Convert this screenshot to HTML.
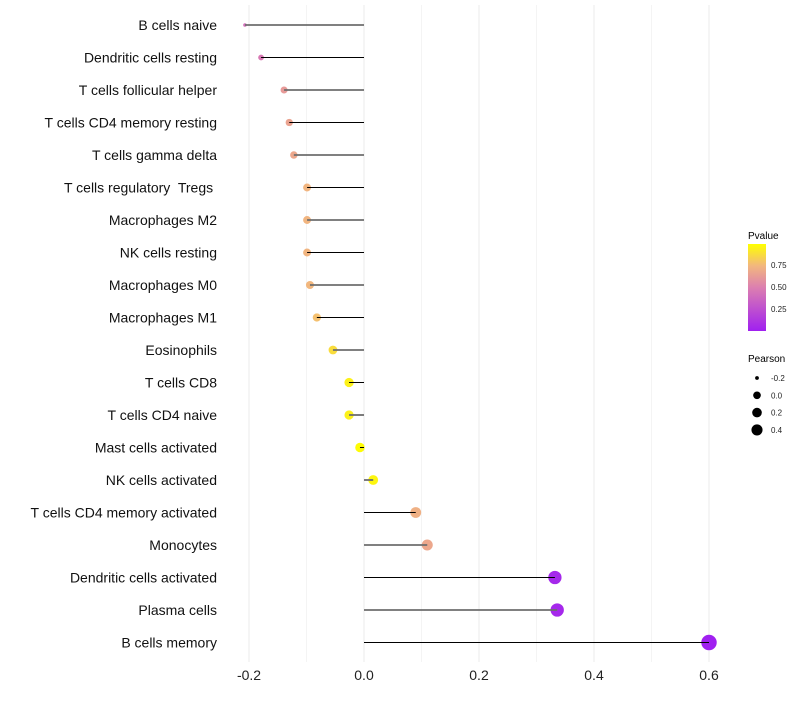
<!DOCTYPE html>
<html><head><meta charset="utf-8"><style>
body{margin:0;background:#fff;font-family:"Liberation Sans",sans-serif;}
</style></head><body>
<svg id="chart" width="800" height="700" xmlns="http://www.w3.org/2000/svg" font-family="Liberation Sans, sans-serif">
<defs><linearGradient id="pg" x1="0" y1="1" x2="0" y2="0">
<stop offset="0" stop-color="#A020F0"/><stop offset="0.5" stop-color="#DC7FB0"/><stop offset="0.75" stop-color="#F2B77E"/><stop offset="1" stop-color="#FFFF00"/></linearGradient></defs>
<g id="grid"></g><g id="marks"></g><g id="labels"></g>
<g>
<text x="748" y="239" font-size="10" fill="#000">Pvalue</text>
<rect x="748" y="244" width="18" height="87" fill="url(#pg)"/>
<g font-size="8" fill="#222"><text x="771" y="268">0.75</text><text x="771" y="290">0.50</text><text x="771" y="312">0.25</text></g>
<text x="748" y="362" font-size="10" fill="#000">Pearson</text>
<g id="sizeleg" font-size="8" fill="#222"></g>
</g>
</svg>
<script>
const cats=["B cells naive","Dendritic cells resting","T cells follicular helper","T cells CD4 memory resting","T cells gamma delta","T cells regulatory  Tregs ","Macrophages M2","NK cells resting","Macrophages M0","Macrophages M1","Eosinophils","T cells CD8","T cells CD4 naive","Mast cells activated","NK cells activated","T cells CD4 memory activated","Monocytes","Dendritic cells activated","Plasma cells","B cells memory"];
const pearson=[-0.207,-0.179,-0.139,-0.130,-0.122,-0.099,-0.099,-0.099,-0.094,-0.082,-0.054,-0.026,-0.026,-0.007,0.016,0.090,0.110,0.332,0.336,0.600];
const pvalue=[0.42,0.47,0.62,0.66,0.68,0.74,0.74,0.74,0.75,0.78,0.88,0.95,0.95,0.99,0.97,0.72,0.68,0.04,0.04,0.0];
const xTicks=[-0.2,0.0,0.2,0.4,0.6];
const xTickLabels=["-0.2","0.0","0.2","0.4","0.6"];
const sizeLegend=[-0.2,0.0,0.2,0.4];
const NS="http://www.w3.org/2000/svg";
const x=v=>364+v*575;
const y=i=>25+i*32.5;
const rad=v=>1.8+6.6*Math.sqrt(Math.max(0,v+0.207));
function hex(h){return [1,3,5].map(i=>parseInt(h.substr(i,2),16));}
const stops=[[0,hex("#A020F0")],[0.5,hex("#DC7FB0")],[0.75,hex("#F2B77E")],[1,hex("#FFFF00")]];
function col(p){for(let k=1;k<stops.length;k++){if(p<=stops[k][0]){const a=stops[k-1],b=stops[k],t=(p-a[0])/(b[0]-a[0]);return "rgb("+a[1].map((c,j)=>Math.round(c+(b[1][j]-c)*t)).join(",")+")";}}return "#FFFF00";}
function mk(t,at,parent){const e=document.createElementNS(NS,t);for(const k in at)e.setAttribute(k,at[k]);parent.appendChild(e);return e;}
const grid=document.getElementById('grid'),marks=document.getElementById('marks'),labels=document.getElementById('labels');
for(let v=-0.2;v<=0.6001;v+=0.1){const g=mk('line',{x1:x(v),x2:x(v),y1:5,y2:662,stroke:Math.abs(Math.round(v*10))%2==0?'#ebebeb':'#f4f4f4','stroke-width':1},grid);

}
xTicks.forEach((v,i)=>{const t=mk('text',{x:x(v),y:680,'font-size':14,'text-anchor':'middle',fill:'#222'},labels);t.textContent=xTickLabels[i];

});
cats.forEach((c,i)=>{
const t=mk('text',{x:217,y:y(i)+5,'font-size':14,'text-anchor':'end',fill:'#111',style:'white-space:pre'},labels);t.textContent=c;


const pt=mk('circle',{cx:x(pearson[i]),cy:y(i),r:rad(pearson[i]),fill:col(pvalue[i])},marks);


const s=mk('line',{x1:x(0),x2:x(pearson[i]),y1:y(i),y2:y(i),stroke:i%2==0?'#6e6e6e':'#000','stroke-width':i%2==0?1.8:1},marks);

});
const sl=document.getElementById('sizeleg');
sizeLegend.forEach((v,i)=>{const cy=378+i*17.3;
const c=mk('circle',{cx:757,cy:cy,r:rad(v)*0.8,fill:'#000'},sl);


const t=mk('text',{x:771,y:cy+3},sl);t.textContent=v.toFixed(1);

});
</script>
</body></html>
